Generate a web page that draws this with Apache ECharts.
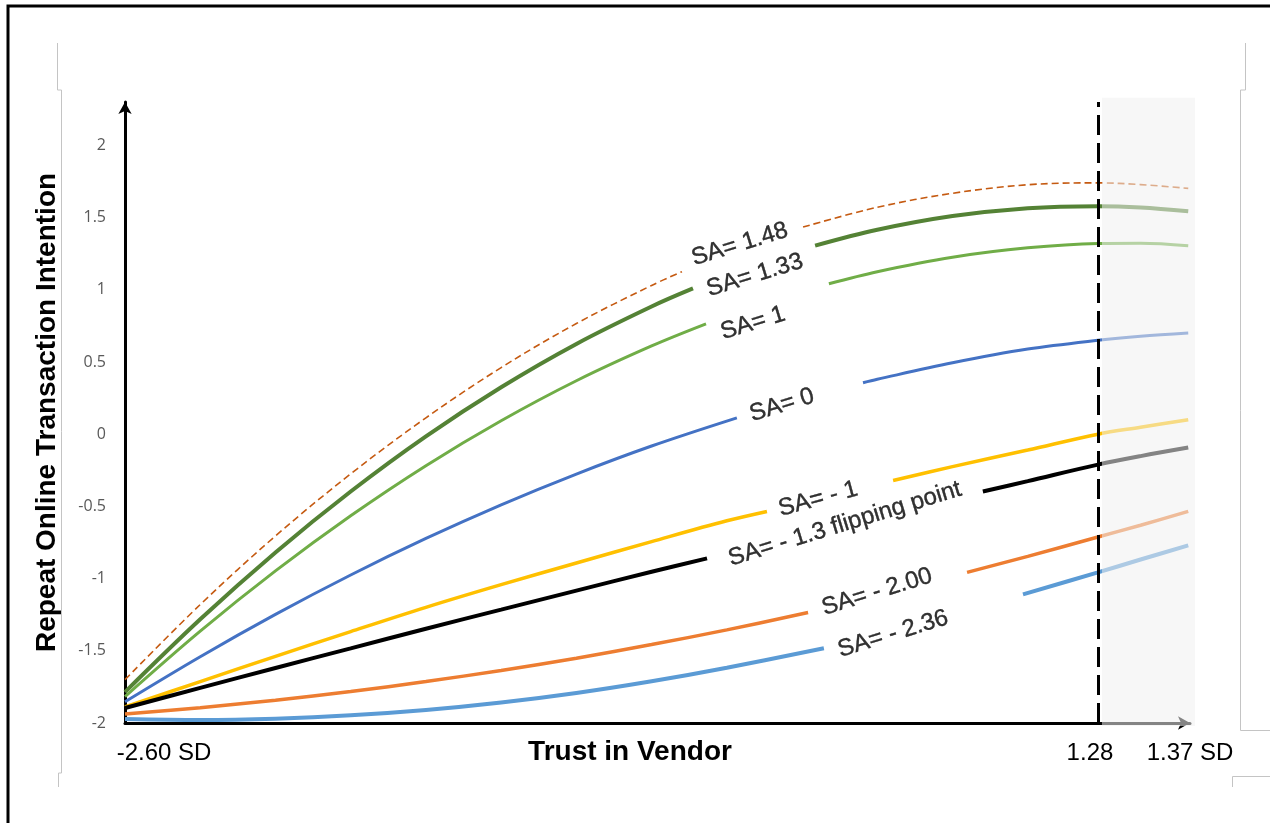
<!DOCTYPE html>
<html>
<head>
<meta charset="utf-8">
<script src="https://cdn.jsdelivr.net/npm/echarts@6/dist/echarts.min.js"></script>
<style>html,body{margin:0;padding:0;background:#fff}#c{width:1270px;height:823px}</style>
</head>
<body>
<div id="c"></div>
<script>
// ---- data (x in SD units of Trust in Vendor; y = Repeat Online Transaction Intention) ----
const xTickValues = [-2.6, 1.28, 1.647];
const xTickLabels = ['-2.60 SD', '1.28', '1.37 SD'];
const flipX = 1.28;
const shadeX = [1.296, 1.667];
const shadeY = [-2.02, 2.33];

const seriesNames = ['SA= 1.48', 'SA= 1.33', 'SA= 1', 'SA= 0', 'SA= - 1', 'SA= - 1.3 flipping point', 'SA= - 2.00', 'SA= - 2.36'];

const sa148 = [[-2.6,-1.70],[-2.3,-1.18],[-2.0,-0.705],[-1.7,-0.275],[-1.4,0.113],[-1.1,0.461],[-0.8,0.766],[-0.5,1.030],[-0.379,1.125],[-0.14,null],[0.104,1.434],[0.4,1.571],[0.7,1.668],[1.0,1.727],[1.28,1.740],[1.45,1.728],[1.64,1.702]];
const sa133 = [[-2.6,-1.786],[-2.3,-1.282],[-2.0,-0.819],[-1.7,-0.397],[-1.4,-0.015],[-1.1,0.325],[-0.8,0.625],[-0.5,0.884],[-0.335,1.009],[-0.09,null],[0.152,1.305],[0.4,1.415],[0.7,1.510],[1.0,1.565],[1.28,1.579],[1.45,1.570],[1.64,1.544]];
const sa1 = [[-2.6,-1.817],[-2.3,-1.364],[-2.0,-0.947],[-1.7,-0.565],[-1.4,-0.218],[-1.1,0.093],[-0.8,0.370],[-0.5,0.611],[-0.283,0.764],[-0.04,null],[0.207,1.041],[0.4,1.125],[0.7,1.225],[1.0,1.290],[1.28,1.320],[1.45,1.322],[1.64,1.305]];
const sa0 = [[-2.6,-1.853],[-2.3,-1.541],[-2.0,-1.248],[-1.7,-0.975],[-1.4,-0.722],[-1.1,-0.489],[-0.8,-0.276],[-0.5,-0.082],[-0.16,0.113],[0.09,null],[0.343,0.356],[0.4,0.380],[0.7,0.494],[1.0,0.589],[1.28,0.650],[1.45,0.678],[1.64,0.700]];
const saM1 = [[-2.6,-1.889],[-2.3,-1.713],[-2.0,-1.539],[-1.7,-1.367],[-1.4,-1.199],[-1.1,-1.042],[-0.8,-0.892],[-0.5,-0.744],[-0.2,-0.600],[-0.04,-0.535],[0.21,null],[0.463,-0.321],[0.7,-0.225],[1.0,-0.110],[1.28,0.0],[1.45,0.048],[1.64,0.100]];
const saM13 = [[-2.6,-1.896],[-2.3,-1.757],[-2.0,-1.619],[-1.7,-1.483],[-1.4,-1.347],[-1.1,-1.215],[-0.8,-1.083],[-0.5,-0.953],[-0.279,-0.860],[0.27,null],[0.821,-0.397],[1.0,-0.325],[1.28,-0.211],[1.45,-0.152],[1.64,-0.093]];
const saM2 = [[-2.6,-1.938],[-2.3,-1.894],[-2.0,-1.842],[-1.7,-1.782],[-1.4,-1.713],[-1.1,-1.636],[-0.8,-1.551],[-0.5,-1.457],[-0.2,-1.355],[0.124,-1.235],[0.44,null],[0.758,-0.957],[1.0,-0.846],[1.28,-0.712],[1.45,-0.631],[1.64,-0.535]];
const saM236 = [[-2.6,-1.972],[-2.3,-1.979],[-2.0,-1.970],[-1.7,-1.947],[-1.4,-1.910],[-1.1,-1.858],[-0.8,-1.792],[-0.5,-1.711],[-0.2,-1.617],[0.187,-1.482],[0.58,null],[0.981,-1.109],[1.28,-0.957],[1.45,-0.868],[1.64,-0.770]];

// label anchor points (centre of the inline label, data units) and rotation
const labelX = [-0.148, -0.088, -0.096, 0.020, 0.164, 0.271, 0.399, 0.463];
const labelY = [1.314, 1.100, 0.768, 0.201, -0.450, -0.622, -1.093, -1.383];
const labelRot = [17, 17, 17, 17, 15, 17, 17, 17];

// ---- styling ----
const lineData = [sa148, sa133, sa1, sa0, saM1, saM13, saM2, saM236];
const lineColors = ['#C55A11', '#548235', '#70AD47', '#4472C4', '#FFC000', '#000000', '#ED7D31', '#5B9BD5'];
const lineWidths = [1.6, 4, 3, 3, 3.5, 4, 3.5, 4];
const lineTypes = [[7, 4], 'solid', 'solid', 'solid', 'solid', 'solid', 'solid', 'solid'];

const chart = echarts.init(document.getElementById('c'), null, {renderer: 'canvas'});

const series = lineData.map((d, i) => ({
  name: seriesNames[i],
  type: 'line',
  data: d,
  showSymbol: false,
  smooth: 0.35,
  connectNulls: false,
  z: 2 + i * 0.01,
  lineStyle: {color: lineColors[i], width: lineWidths[i], type: lineTypes[i]},
  itemStyle: {color: lineColors[i]},
  silent: true
}));

series.push({
  type: 'line',
  data: [],
  markLine: {
    silent: true,
    symbol: 'none',
    label: {show: false},
    lineStyle: {color: '#000', width: 3, type: [20, 8]},
    data: [{xAxis: flipX}]
  }
});

series.push({
  type: 'scatter',
  symbolSize: 1,
  itemStyle: {color: 'rgba(0,0,0,0)'},
  silent: true,
  z: 5,
  data: seriesNames.map((n, i) => ({
    value: [labelX[i], labelY[i]],
    label: {
      show: true,
      position: 'inside',
      formatter: n,
      rotate: labelRot[i],
      fontSize: 24,
      color: '#000',
      textBorderColor: '#000',
      textBorderWidth: 0.4,
      fontFamily: 'Liberation Sans, Arial, sans-serif'
    }
  }))
});

const richBase = {fontSize: 24, color: '#000', fontFamily: 'Liberation Sans, Arial, sans-serif'};

chart.setOption({
  animation: false,
  backgroundColor: '#fff',
  grid: {left: 125, right: 80, top: 102, bottom: 100, containLabel: false},
  xAxis: {
    type: 'value',
    min: -2.6,
    max: 1.647,
    name: 'Trust in Vendor',
    nameLocation: 'middle',
    nameGap: 15,
    nameMoveOverlap: false,
    nameTextStyle: {fontSize: 28, fontWeight: 'bold', color: '#000', fontFamily: 'Liberation Sans, Arial, sans-serif', padding: [0, 55, 0, 0]},
    axisLine: {onZero: false, lineStyle: {color: '#000', width: 3}, symbol: ['none', 'arrow'], symbolSize: [10, 12]},
    axisTick: {show: false},
    splitLine: {show: false},
    axisLabel: {
      customValues: xTickValues,
      margin: 18,
      formatter: function (v) {
        let idx = 0, best = 1e9;
        xTickValues.forEach((t, i) => { const d = Math.abs(t - v); if (d < best) { best = d; idx = i; } });
        const key = ['a', 'b', 'c'][idx];
        return '{' + key + '|' + xTickLabels[idx] + '}';
      },
      rich: {
        a: Object.assign({padding: [0, 0, 0, 78]}, richBase),
        b: Object.assign({padding: [0, 16, 0, 0]}, richBase),
        c: Object.assign({}, richBase)
      }
    }
  },
  yAxis: {
    type: 'value',
    min: -2,
    max: 2.3,
    interval: 0.5,
    name: 'Repeat Online Transaction Intention',
    nameLocation: 'middle',
    nameGap: 64,
    nameMoveOverlap: false,
    nameTextStyle: {fontSize: 28, fontWeight: 'bold', color: '#000', fontFamily: 'Liberation Sans, Arial, sans-serif'},
    axisLine: {onZero: false, lineStyle: {color: '#000', width: 3}, symbol: ['none', 'arrow'], symbolSize: [10, 12]},
    axisTick: {show: false},
    splitLine: {show: false},
    axisLabel: {
      margin: 19,
      fontSize: 16,
      color: '#595959',
      fontFamily: 'Open Sans, Noto Sans, sans-serif',
      showMaxLabel: false
    }
  },
  series: series
});

// shaded / faded region beyond the flipping point, placed through the chart's own scales
const pTL = chart.convertToPixel({gridIndex: 0}, [shadeX[0], shadeY[1]]);
const pBR = chart.convertToPixel({gridIndex: 0}, [shadeX[1], shadeY[0]]);

chart.setOption({
  graphic: [
    {
      type: 'rect', z: 100, silent: true,
      shape: {x: pTL[0], y: pTL[1], width: pBR[0] - pTL[0], height: pBR[1] - pTL[1]},
      style: {fill: 'rgba(240,240,240,0.55)'}
    },
    {
      type: 'polyline', z: 101, silent: true,
      shape: {points: [[8, 823], [8, 6], [1270, 6]]},
      style: {stroke: '#000', lineWidth: 3, fill: null}
    },
    {
      type: 'polyline', z: 101, silent: true,
      shape: {points: [[57.5, 43], [57.5, 90], [61.5, 90], [61.5, 773], [58.5, 773], [58.5, 787]]},
      style: {stroke: '#c4c4c4', lineWidth: 1, fill: null}
    },
    {
      type: 'polyline', z: 101, silent: true,
      shape: {points: [[1245.5, 43], [1245.5, 90], [1240.5, 90], [1240.5, 730.5], [1270, 730.5]]},
      style: {stroke: '#c4c4c4', lineWidth: 1, fill: null}
    },
    {
      type: 'polyline', z: 101, silent: true,
      shape: {points: [[1232.5, 787], [1232.5, 776.5], [1270, 776.5]]},
      style: {stroke: '#c4c4c4', lineWidth: 1, fill: null}
    }
  ]
});
</script>
</body>
</html>
